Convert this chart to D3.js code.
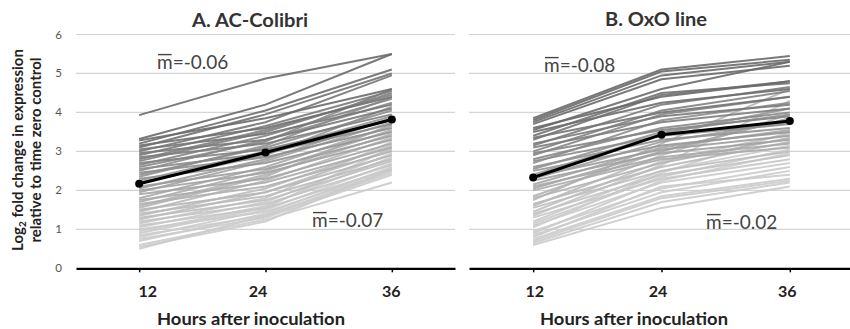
<!DOCTYPE html>
<html><head><meta charset="utf-8">
<script src="https://cdn.jsdelivr.net/npm/d3@7"></script>
<style>body{margin:0;background:#fff}svg{display:block}</style>
</head><body>
<svg id="c" width="850" height="329"></svg>
<script>
const hours = ["12", "24", "36"];
const yTicks = [0, 1, 2, 3, 4, 5, 6];
const titles = ["A. AC-Colibri", "B. OxO line"];
const xTitle = "Hours after inoculation";
const yTitle1 = "Log";
const yTitle1b = " fold change in expression";
const yTitle2 = "relative to time zero control";

// Panel A lines: values at 12, 24, 36 h
const a12 = [3.93,3.32,3.28,3.20,3.15,3.10,3.05,3.00,2.95,2.90,2.85,2.80,2.75,2.70,2.65,2.60,2.55,2.50,2.45,2.40,2.35,2.30,2.25,2.20,2.10,2.05,2.00,1.95,1.90,1.80,1.75,1.70,1.65,1.60,1.55,1.50,1.45,1.40,1.35,1.30,1.25,1.20,1.15,1.10,1.05,1.00,0.95,0.90,0.85,0.80,0.75,0.70,0.60,0.55,0.50];
const a24 = [4.87,4.20,3.85,4.05,3.60,3.95,3.45,3.75,3.30,3.65,3.20,3.55,3.50,3.05,3.40,3.25,2.95,3.30,2.85,3.10,3.15,2.70,3.00,2.90,2.55,2.80,2.45,2.75,2.30,2.60,2.20,2.50,2.10,2.40,2.35,1.95,2.25,1.85,2.05,1.75,1.95,1.65,1.80,1.55,1.70,1.45,1.60,1.55,1.35,1.50,1.30,1.40,1.25,1.20,1.35];
const a36 = [5.50,5.50,4.60,5.10,4.40,5.00,4.20,4.95,4.10,4.55,3.95,4.45,4.50,3.80,4.35,4.60,3.70,4.25,3.60,4.05,4.40,3.50,3.90,4.15,3.40,3.85,3.30,3.75,3.20,3.65,3.10,3.55,3.00,3.45,3.70,2.90,3.35,2.80,3.15,2.75,3.05,2.65,3.25,2.55,2.95,2.50,2.85,3.10,2.45,2.70,2.40,2.60,2.20,2.55,2.50];
const aMean = [2.17, 2.97, 3.82];
const aSlopes = ["-0.06", "-0.07"];

// Panel B lines
const b12 = [3.85,3.80,3.75,3.70,3.60,3.55,3.50,3.40,3.35,3.30,3.20,3.15,3.10,3.00,2.95,2.90,2.80,2.75,2.70,2.60,2.55,2.50,2.40,2.35,2.30,2.25,2.15,2.10,2.05,2.00,1.85,1.80,1.75,1.65,1.60,1.55,1.45,1.40,1.35,1.30,1.20,1.15,1.10,1.05,0.95,0.90,0.85,0.80,0.75,0.70,0.65,0.60];
const b24 = [5.10,5.05,4.95,4.85,4.40,4.60,4.25,4.50,4.00,4.45,3.90,4.20,3.75,4.05,3.55,3.95,3.60,3.40,3.80,3.30,3.50,3.15,3.45,3.05,3.25,2.95,3.10,2.85,3.00,2.80,3.00,2.70,3.20,2.60,2.90,2.50,2.75,2.40,2.65,2.30,2.50,2.35,2.20,2.45,2.05,2.25,1.95,2.10,1.85,1.80,1.70,1.55];
const b36 = [5.45,5.35,5.30,5.20,4.80,5.30,4.60,4.75,4.40,4.80,4.20,4.65,4.10,4.55,3.90,4.40,4.00,3.70,4.25,3.60,3.95,3.50,4.10,3.40,3.75,3.30,3.55,3.20,3.85,3.10,3.85,3.35,4.60,3.25,3.95,3.00,3.45,2.90,4.30,2.80,3.15,3.05,2.70,3.50,2.60,2.95,2.50,2.40,2.30,2.25,2.20,2.10];
const bMean = [2.33, 3.43, 3.78];
const bSlopes = ["-0.08", "-0.02"];

const svg = d3.select("#c");
const font = "Lato, 'Open Sans', sans-serif";
const y = d3.scaleLinear().domain([0, 6]).range([268.3, 34.5]);

const panels = [
  {title: titles[0], v12: a12, v24: a24, v36: a36, mean: aMean, slopes: aSlopes, x0: 76, x1: 455, c: [1.0, 3.3], showY: true,
   lab: [[157, 62], [312, 220]], tx: 250, tw: 116, ty: 26.5, hx: 251, lblDx: [8, -8, -1]},
  {title: titles[1], v12: b12, v24: b24, v36: b36, mean: bMean, slopes: bSlopes, x0: 469, x1: 854, c: [1.2, 3.6], showY: false,
   lab: [[544, 65], [706, 222]], tx: 656, tw: 102, ty: 25.5, hx: 634, lblDx: [1, -4, -3]}
];

panels.forEach(p => {
  const x = d3.scalePoint().domain(hours).range([p.x0, p.x1]).padding(0.5);
  const g = svg.append("g");
  // gridlines
  g.append("g").selectAll("line").data(yTicks.filter(d => d > 0)).join("line")
    .attr("x1", p.x0).attr("x2", p.x1)
    .attr("y1", d => y(d)).attr("y2", d => y(d))
    .attr("stroke", "#d4d4d4").attr("stroke-width", 1.2);
  if (p.showY) {
    g.append("g").selectAll("text").data(yTicks).join("text")
      .attr("x", 62).attr("y", d => y(d)).attr("dy", "0.35em")
      .attr("text-anchor", "end").attr("font-family", font)
      .attr("font-size", 11.5).attr("fill", "#555").text(d => d);
  }
  const rows = p.v12.map((v, i) => [v, p.v24[i], p.v36[i]]);
  const col = d3.scaleLinear().domain(p.c).range(["#cbcbcb", "#6a6a6a"]).clamp(true);
  const line = d3.line().x((d, i) => x(hours[i])).y(d => y(d));
  const order = rows.map((r, i) => i).sort((a, b) => rows[a][0] - rows[b][0]);
  g.append("g").selectAll("path").data(order.map(i => rows[i])).join("path")
    .attr("d", line).attr("fill", "none")
    .attr("stroke", d => col(d[0])).attr("stroke-width", 2).attr("stroke-opacity", 0.9);
  // mean
  g.append("path").datum(p.mean).attr("d", line).attr("fill", "none")
    .attr("stroke", "#000").attr("stroke-width", 3);
  g.append("g").selectAll("circle").data(p.mean).join("circle")
    .attr("cx", (d, i) => x(hours[i])).attr("cy", d => y(d)).attr("r", 4).attr("fill", "#000");
  // axis
  const ax = g.append("g").attr("transform", `translate(0,${y(0)})`)
    .call(d3.axisBottom(x).tickSize(4).tickSizeOuter(0).tickPadding(13));
  ax.select(".domain").attr("stroke", "#000").attr("stroke-width", 2.2);
  ax.selectAll(".tick line").attr("stroke", "#000").attr("stroke-width", 1.5);
  ax.selectAll(".tick text").attr("font-family", font).attr("font-weight", "bold")
    .attr("font-size", 16).attr("fill", "#222")
    .attr("dx", (d, i) => p.lblDx[i]);
  // titles
  g.append("text").attr("x", p.tx).attr("y", p.ty)
    .attr("text-anchor", "middle").attr("font-family", font).attr("font-weight", "bold")
    .attr("font-size", 18.5).attr("fill", "#333")
    .attr("textLength", p.tw).attr("lengthAdjust", "spacingAndGlyphs").text(p.title);
  g.append("text").attr("x", p.hx).attr("y", 325)
    .attr("text-anchor", "middle").attr("font-family", font).attr("font-weight", "bold")
    .attr("font-size", 17.5).attr("fill", "#222")
    .attr("textLength", 188).attr("lengthAdjust", "spacingAndGlyphs").text(xTitle);
  // slope labels with overlined m
  const fs = 19;
  p.slopes.forEach((s, i) => {
    const base = p.lab[i][1] + 0.35 * fs;
    const t = g.append("text").attr("x", p.lab[i][0]).attr("y", base)
      .attr("font-family", font).attr("font-size", fs).attr("fill", "#444");
    t.append("tspan").text("m");
    t.append("tspan").text("=" + s);
    const mw = t.node().getSubStringLength(0, 1);
    g.append("line").attr("x1", p.lab[i][0] + 1).attr("x2", p.lab[i][0] + mw - 1)
      .attr("y1", base - 0.74 * fs).attr("y2", base - 0.74 * fs)
      .attr("stroke", "#444").attr("stroke-width", 1.4);
  });
});

// y axis title
const yt = svg.append("text").attr("transform", "translate(23,150) rotate(-90)")
  .attr("text-anchor", "middle").attr("font-family", font).attr("font-weight", "bold")
  .attr("font-size", 15).attr("fill", "#222");
yt.append("tspan").text(yTitle1);
yt.append("tspan").attr("font-size", 10).attr("dy", 3).text("2");
yt.append("tspan").attr("dy", -3).text(yTitle1b);
svg.append("text").attr("transform", "translate(41,150) rotate(-90)")
  .attr("text-anchor", "middle").attr("font-family", font).attr("font-weight", "bold")
  .attr("font-size", 15).attr("fill", "#222").text(yTitle2);
</script>
</body></html>
